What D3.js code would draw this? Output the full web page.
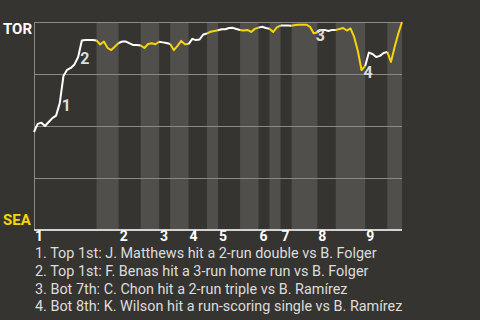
<!DOCTYPE html>
<html>
<head>
<meta charset="utf-8">
<script src="https://d3js.org/d3.v7.min.js"></script>
<style>
  html, body { margin: 0; padding: 0; background: #363430; }
  svg { display: block; font-family: Roboto, "Noto Sans", sans-serif; }
</style>
</head>
<body>
<div id="chart"></div>
<script>
(function() {
  'use strict'

  // Teams at the top / bottom of the chart.
  var teams = ['TOR', 'SEA'];

  // Inning labels under the axis.
  var innings = ['1', '2', '3', '4', '5', '6', '7', '8', '9'];

  // First event of every half inning (top 1st, bot 1st, top 2nd, ...), last event.
  var halfStarts = [0, 17, 23, 29, 34, 37, 42, 47, 50, 56, 61, 64, 67, 70, 77, 82, 90, 96];
  var lastEvent = 100;

  // TOR win probability after each event.
  var torWinProb = [
    0.471, 0.510, 0.516, 0.500, 0.519, 0.538, 0.550, 0.610, 0.740, 0.770,
    0.779, 0.796, 0.832, 0.911, 0.913, 0.913, 0.913, 0.911, 0.892, 0.906,
    0.875, 0.865, 0.882, 0.899, 0.906, 0.906, 0.897, 0.889, 0.889, 0.887,
    0.875, 0.894, 0.898, 0.893, 0.905, 0.902, 0.899, 0.894, 0.865, 0.885,
    0.909, 0.893, 0.894, 0.919, 0.913, 0.916, 0.940, 0.945, 0.953, 0.957,
    0.960, 0.965, 0.965, 0.971, 0.972, 0.966, 0.962, 0.959, 0.962, 0.952,
    0.967, 0.973, 0.977, 0.971, 0.968, 0.952, 0.974, 0.983, 0.983, 0.983,
    0.982, 0.986, 0.987, 0.987, 0.987, 0.977, 0.946, 0.950, 0.962, 0.962,
    0.957, 0.962, 0.962, 0.966, 0.971, 0.959, 0.969, 0.928, 0.861, 0.769,
    0.788, 0.853, 0.846, 0.832, 0.837, 0.851, 0.856, 0.808, 0.880, 0.945,
    1.000
  ];

  // Key plays: event index and description.
  var noteEvents = [7, 12, 76, 89];
  var noteTexts = [
    'Top 1st: J. Matthews hit a 2-run double vs B. Folger',
    'Top 1st: F. Benas hit a 3-run home run vs B. Folger',
    'Bot 7th: C. Chon hit a 2-run triple vs B. Ramírez',
    'Bot 8th: K. Wilson hit a run-scoring single vs B. Ramírez'
  ];

  var width = 480, height = 320;
  var left = 34, right = 402, top = 22, bottom = 230;

  var colors = {
    bg: '#363430',
    band: '#504f4c',
    grid: '#8a8986',
    axis: '#d2d2d2',
    top: '#ffffff',
    bot: '#f6d40c',
    text: '#dddddd'
  };

  var svg = d3.select('#chart').append('svg')
    .attr('width', width)
    .attr('height', height)
    .style('background', colors.bg);

  var x = d3.scaleLinear().domain([0, lastEvent]).range([left, right]);
  var y = d3.scaleLinear().domain([0, 1]).range([bottom, top]);

  // Half-inning spans.
  var halves = halfStarts.map(function(s, i) {
    return { start: s, end: i + 1 < halfStarts.length ? halfStarts[i + 1] : lastEvent, bottom: i % 2 === 1 };
  });

  // Shade the bottom halves.
  svg.append('g').selectAll('rect')
    .data(halves.filter(function(h) { return h.bottom; }))
    .enter().append('rect')
    .attr('x', function(h) { return x(h.start); })
    .attr('width', function(h) { return x(h.end) - x(h.start); })
    .attr('y', top)
    .attr('height', bottom - top)
    .attr('fill', colors.band);

  // Gridlines and frame.
  svg.append('g').selectAll('line')
    .data([0.25, 0.5, 0.75, 1])
    .enter().append('line')
    .attr('x1', left).attr('x2', right)
    .attr('y1', function(d) { return y(d); })
    .attr('y2', function(d) { return y(d); })
    .attr('stroke', colors.grid)
    .attr('stroke-width', 1)
    .attr('shape-rendering', 'crispEdges');

  svg.append('line')
    .attr('x1', left).attr('x2', left)
    .attr('y1', top).attr('y2', bottom)
    .attr('stroke', colors.grid)
    .attr('shape-rendering', 'crispEdges');

  svg.append('line')
    .attr('x1', left).attr('x2', right)
    .attr('y1', bottom).attr('y2', bottom)
    .attr('stroke', colors.axis)
    .attr('stroke-width', 1.5)
    .attr('shape-rendering', 'crispEdges');

  // Split the line into runs by batting team.
  function halfOf(i) {
    for (var h = halves.length - 1; h >= 0; h--) {
      if (i > halves[h].start) return halves[h];
    }
    return halves[0];
  }

  var runs = [];
  for (var i = 1; i < torWinProb.length; i++) {
    var isBot = halfOf(i).bottom;
    var run = runs[runs.length - 1];
    if (!run || run.bottom !== isBot) {
      run = { bottom: isBot, pts: [i - 1] };
      runs.push(run);
    }
    run.pts.push(i);
  }

  var line = d3.line()
    .x(function(i) { return x(i); })
    .y(function(i) { return y(torWinProb[i]); });

  svg.append('g').selectAll('path')
    .data(runs)
    .enter().append('path')
    .attr('d', function(r) { return line(r.pts); })
    .attr('fill', 'none')
    .attr('stroke', function(r) { return r.bottom ? colors.bot : colors.top; })
    .attr('stroke-width', 2)
    .attr('stroke-linejoin', 'round');

  // Numbered markers at the key plays.
  svg.append('g').selectAll('text')
    .data(noteEvents)
    .enter().append('text')
    .attr('x', function(i) { return x(i) + 2; })
    .attr('y', function(i) { return y(torWinProb[i]) + 2; })
    .attr('dominant-baseline', 'central')
    .attr('fill', colors.text)
    .style('font-size', '16px')
    .style('font-weight', 'bold')
    .text(function(d, k) { return k + 1; });

  // Team labels.
  svg.append('text')
    .attr('x', 3).attr('y', 33.5)
    .attr('fill', '#ffffff')
    .style('font-size', '15px')
    .style('font-weight', 'bold')
    .text(teams[0]);

  svg.append('text')
    .attr('x', 3).attr('y', 225)
    .attr('fill', colors.bot)
    .style('font-size', '15px')
    .style('font-weight', 'bold')
    .text(teams[1]);

  // Inning numbers at the start of each top half.
  svg.append('g').selectAll('text')
    .data(innings)
    .enter().append('text')
    .attr('x', function(d, k) { return x(halfStarts[k * 2]) + 1; })
    .attr('y', 241)
    .attr('fill', '#ffffff')
    .style('font-size', '14px')
    .style('font-weight', 'bold')
    .text(function(d) { return d; });

  // Key play list.
  svg.append('g').selectAll('text')
    .data(noteTexts)
    .enter().append('text')
    .attr('x', 35)
    .attr('y', function(d, k) { return 258 + k * 17.8; })
    .attr('fill', colors.text)
    .style('font-size', '14.4px')
    .text(function(d, k) { return (k + 1) + '. ' + d; });

})();
</script>
</body>
</html>
